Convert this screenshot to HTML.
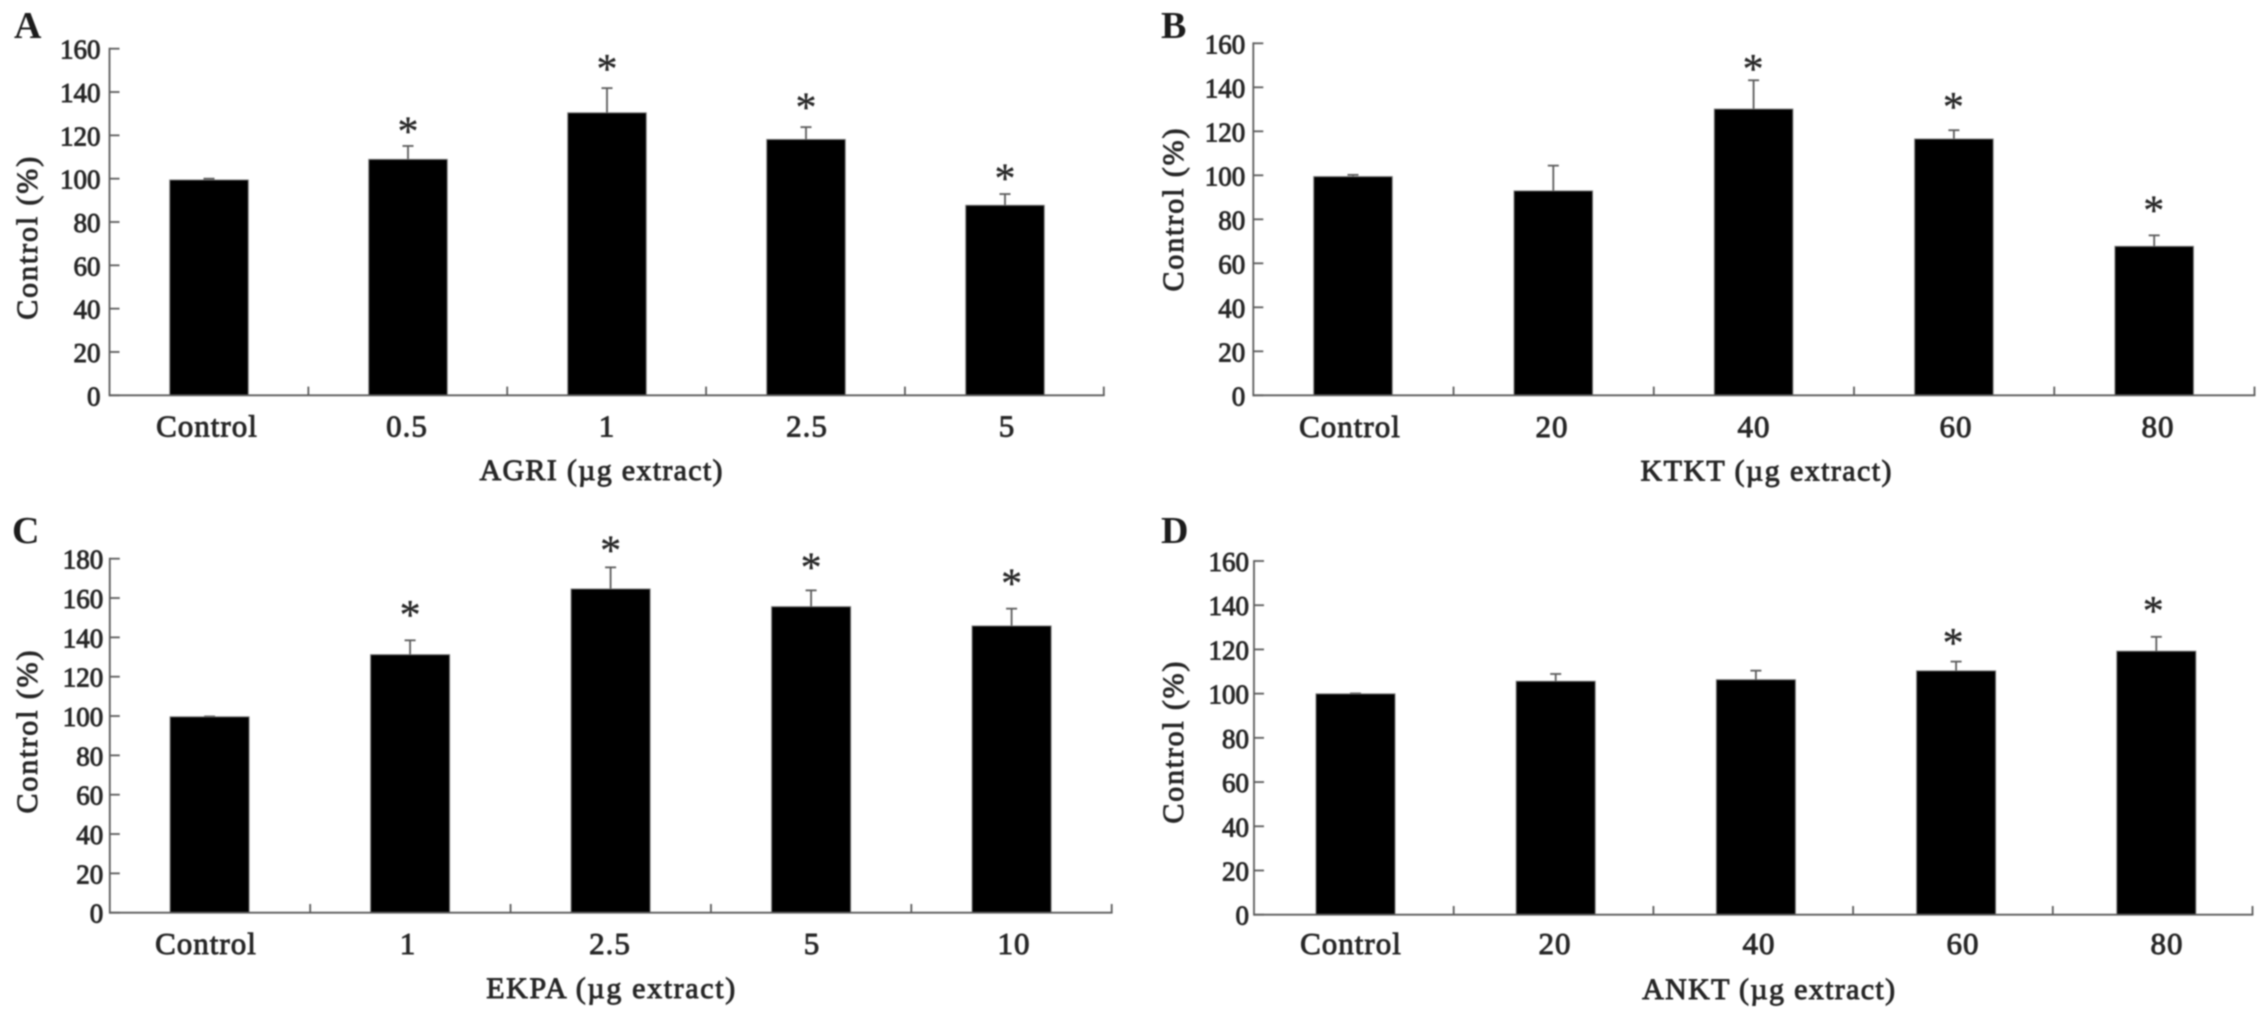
<!DOCTYPE html>
<html lang="en">
<head>
<meta charset="utf-8">
<title>Control (%) by extract dose</title>
<style>
  html, body { margin: 0; padding: 0; background: #fff; }
  body { width: 2268px; height: 1019px; overflow: hidden; }
  svg { display: block; filter: blur(0.7px); }
  text { font-family: "Liberation Serif", serif; fill: #262626; stroke: #262626; stroke-width: 0.9px; }
  .panel-letter { font-size: 38px; font-weight: bold; stroke-width: 0; fill: #1c1c1c; }
  .axis-title { font-size: 30px; }
  .tick-y { font-size: 27px; text-anchor: end; }
  .tick-x { font-size: 31px; text-anchor: middle; letter-spacing: 1px; }
  .star { font-size: 42px; text-anchor: middle; stroke-width: 0.3px; }
</style>
</head>
<body>
<svg id="figure" xmlns="http://www.w3.org/2000/svg" width="2268" height="1019" viewBox="0 0 2268 1019">
  <rect x="0" y="0" width="2268" height="1019" fill="#ffffff"/>

  <g id="panel-a">
    <text class="panel-letter" x="14" y="38">A</text>
    <text class="axis-title" transform="translate(37 238.3) rotate(-90)" text-anchor="middle" textLength="163" lengthAdjust="spacing">Control (%)</text>
    <text class="axis-title" x="601" y="480" text-anchor="middle" textLength="243" lengthAdjust="spacing">AGRI (µg extract)</text>
  </g>

  <g id="panel-b">
    <text class="panel-letter" x="1161" y="38">B</text>
    <text class="axis-title" transform="translate(1183 210) rotate(-90)" text-anchor="middle" textLength="163" lengthAdjust="spacing">Control (%)</text>
    <text class="axis-title" x="1766" y="480.7" text-anchor="middle" textLength="251" lengthAdjust="spacing">KTKT (µg extract)</text>
  </g>

  <g id="panel-c">
    <text class="panel-letter" x="12" y="543">C</text>
    <text class="axis-title" transform="translate(37 732) rotate(-90)" text-anchor="middle" textLength="163" lengthAdjust="spacing">Control (%)</text>
    <text class="axis-title" x="610.7" y="998" text-anchor="middle" textLength="249" lengthAdjust="spacing">EKPA (µg extract)</text>
  </g>

  <g id="panel-d">
    <text class="panel-letter" x="1161" y="543">D</text>
    <text class="axis-title" transform="translate(1183 742.6) rotate(-90)" text-anchor="middle" textLength="162" lengthAdjust="spacing">Control (%)</text>
    <text class="axis-title" x="1768.6" y="999" text-anchor="middle" textLength="253" lengthAdjust="spacing">ANKT (µg extract)</text>
  </g>
</svg>

<script>
// Panel A: AGRI
const agriCategories = ['Control', '0.5', '1', '2.5', '5'];
const agriValues = [99.4, 108.9, 130.4, 118.1, 87.7];
const agriErrors = [0.6, 6.2, 11.4, 5.7, 5.2];
const agriStarLevels = [null, 124.3, 153.2, 135.5, 102.6];
const agriTicks = [0, 20, 40, 60, 80, 100, 120, 140, 160];

// Panel B: KTKT
const ktktCategories = ['Control', '20', '40', '60', '80'];
const ktktValues = [99.4, 92.9, 130.1, 116.5, 67.7];
const ktktErrors = [0.8, 11.5, 13.1, 4.0, 5.0];
const ktktStarLevels = [null, null, 150.9, 133.5, 86.5];
const ktktTicks = [0, 20, 40, 60, 80, 100, 120, 140, 160];

// Panel C: EKPA
const ekpaCategories = ['Control', '1', '2.5', '5', '10'];
const ekpaValues = [99.6, 131.2, 164.6, 155.6, 145.8];
const ekpaErrors = [0.2, 7.3, 11.0, 8.3, 8.8];
const ekpaStarLevels = [null, 154.2, 186.9, 178.4, 170.3];
const ekpaTicks = [0, 20, 40, 60, 80, 100, 120, 140, 160, 180];

// Panel D: ANKT
const anktCategories = ['Control', '20', '40', '60', '80'];
const anktValues = [99.9, 105.6, 106.3, 110.3, 119.2];
const anktErrors = [0.2, 3.3, 4.1, 4.2, 6.5];
const anktStarLevels = [null, null, null, 125.4, 139.8];
const anktTicks = [0, 20, 40, 60, 80, 100, 120, 140, 160];

const SVG_NS = 'http://www.w3.org/2000/svg';
const LINE_COLOR = '#5c5c5c';

function svgEl(parent, tag, attrs, content) {
  const el = document.createElementNS(SVG_NS, tag);
  for (const key in attrs) {
    el.setAttribute(key, attrs[key]);
  }
  if (content !== undefined) {
    el.textContent = content;
  }
  parent.appendChild(el);
  return el;
}

function drawPanel(cfg) {
  const group = document.getElementById('panel-' + cfg.id);
  const yMax = cfg.ticks[cfg.ticks.length - 1];
  const y = function (v) { return cfg.y0 - v * (cfg.y0 - cfg.yTop) / yMax; };
  const barX = function (i) { return cfg.barStart + i * cfg.barStep; };
  const tickX = function (i) { return cfg.x0 + i * (cfg.x1 - cfg.x0) / cfg.categories.length; };
  const labelX = function (i) { return cfg.labelStart + i * cfg.labelStep; };

  cfg.categories.forEach(function (cat, i) {
    const value = cfg.values[i];
    const cap = value + cfg.errors[i];
    const cx = barX(i);

    const errLine = svgEl(group, 'line', { x1: cx, x2: cx, y1: y(cap), y2: y(value), stroke: LINE_COLOR, 'stroke-width': 1.8 });
    
    

    const errCap = svgEl(group, 'line', { x1: cx - 5.5, x2: cx + 5.5, y1: y(cap), y2: y(cap), stroke: LINE_COLOR, 'stroke-width': 1.8 });
    
    

    const bar = svgEl(group, 'rect', { x: cx - cfg.barWidth / 2, y: y(value), width: cfg.barWidth, height: cfg.y0 - y(value), fill: '#000', stroke: '#777', 'stroke-width': 1 });
    
    

    const label = svgEl(group, 'text', { class: 'tick-x', x: labelX(i) + 1, y: cfg.labelBaseline }, cat);
    
    

    if (cfg.stars[i] !== null) {
      const star = svgEl(group, 'text', { class: 'star', x: cx + cfg.starDx, y: y(cfg.stars[i]) + 19.5 }, '*');
      
      
    }
  });

  for (let i = 1; i <= cfg.categories.length; i++) {
    const xTick = svgEl(group, 'line', { x1: tickX(i), x2: tickX(i), y1: cfg.y0, y2: cfg.y0 - 8.7, stroke: LINE_COLOR, 'stroke-width': 1.8 });
    
    
  }

  cfg.ticks.forEach(function (t) {
    const yTick = svgEl(group, 'line', { x1: cfg.x0, x2: cfg.x0 + 10, y1: y(t), y2: y(t), stroke: LINE_COLOR, 'stroke-width': 1.8 });
    
    

    const yLabel = svgEl(group, 'text', { class: 'tick-y', x: cfg.x0 - cfg.labelGap, y: y(t) + 10 }, String(t));
    
    
  });

  const yAxis = svgEl(group, 'line', { x1: cfg.x0, x2: cfg.x0, y1: cfg.yTop - 0.9, y2: cfg.y0 + 0.9, stroke: LINE_COLOR, 'stroke-width': 1.8 });
  
  

  const xAxis = svgEl(group, 'line', { x1: cfg.x0, x2: cfg.x1 + 0.9, y1: cfg.y0, y2: cfg.y0, stroke: LINE_COLOR, 'stroke-width': 1.8 });
  
  
}

drawPanel({ id: 'a', categories: agriCategories, values: agriValues, errors: agriErrors, stars: agriStarLevels, ticks: agriTicks,
  x0: 109.5, x1: 1103.8, yTop: 48.7, y0: 395.3, barStart: 209, barStep: 199, barWidth: 78.5, starDx: 0,
  labelStart: 206, labelStep: 200, labelBaseline: 436.3, labelGap: 9 });
drawPanel({ id: 'b', categories: ktktCategories, values: ktktValues, errors: ktktErrors, stars: ktktStarLevels, ticks: ktktTicks,
  x0: 1253.3, x1: 2254.5, yTop: 43.3, y0: 395.3, barStart: 1353, barStep: 200.3, barWidth: 78.5, starDx: -0.5,
  labelStart: 1349, labelStep: 202, labelBaseline: 437, labelGap: 8 });
drawPanel({ id: 'c', categories: ekpaCategories, values: ekpaValues, errors: ekpaErrors, stars: ekpaStarLevels, ticks: ekpaTicks,
  x0: 109.8, x1: 1111.7, yTop: 558.7, y0: 912.7, barStart: 209.6, barStep: 200.5, barWidth: 79, starDx: 0,
  labelStart: 205, labelStep: 202, labelBaseline: 954, labelGap: 6.5 });
drawPanel({ id: 'd', categories: anktCategories, values: anktValues, errors: anktErrors, stars: anktStarLevels, ticks: anktTicks,
  x0: 1254, x1: 2252.5, yTop: 561, y0: 914.7, barStart: 1355.5, barStep: 200.2, barWidth: 79, starDx: -3,
  labelStart: 1350, labelStep: 204, labelBaseline: 954, labelGap: 5 });
</script>
</body>
</html>
